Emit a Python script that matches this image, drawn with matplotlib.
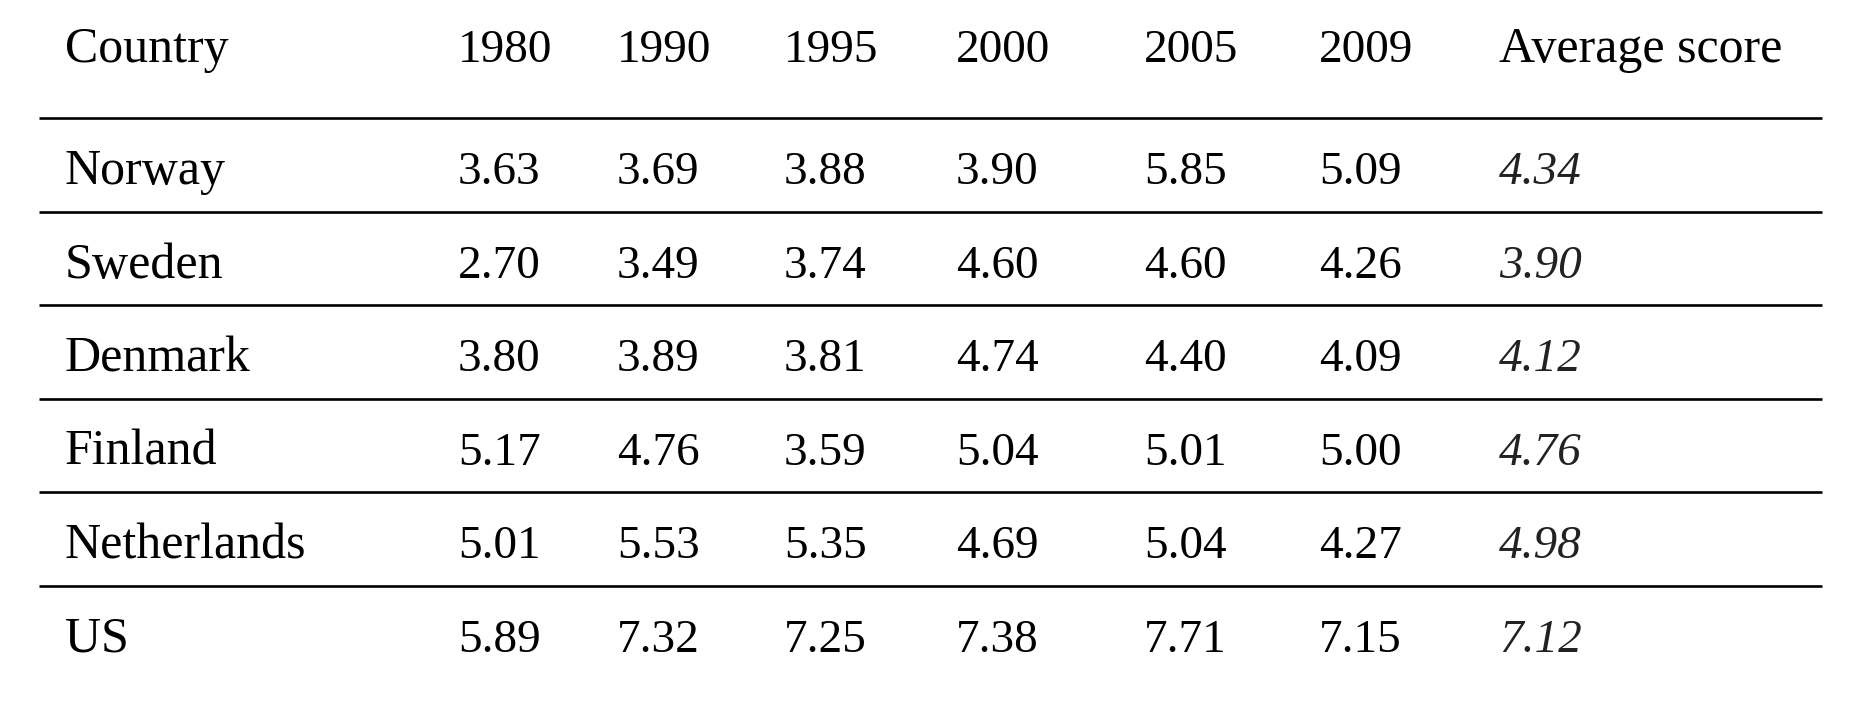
import matplotlib.pyplot as plt

countries = ["Norway", "Sweden", "Denmark", "Finland", "Netherlands", "US"]
years = ["1980", "1990", "1995", "2000", "2005", "2009"]
scores = [
    [3.63, 3.69, 3.88, 3.90, 5.85, 5.09],
    [2.70, 3.49, 3.74, 4.60, 4.60, 4.26],
    [3.80, 3.89, 3.81, 4.74, 4.40, 4.09],
    [5.17, 4.76, 3.59, 5.04, 5.01, 5.00],
    [5.01, 5.53, 5.35, 4.69, 5.04, 4.27],
    [5.89, 7.32, 7.25, 7.38, 7.71, 7.15],
]
averages = [4.34, 3.90, 4.12, 4.76, 4.98, 7.12]

W, H = 1858, 702
fig = plt.figure(figsize=(W / 100, H / 100), dpi=100)
ax = fig.add_axes([0, 0, 1, 1])
ax.set_xlim(0, W)
ax.set_ylim(H, 0)
ax.axis("off")

font = "Liberation Serif"
fs = 34      # numbers
fs_word = 36  # words are a bit wider in the original face

# column left edges (pixels)
x_country = 65
x_years = [458, 617, 784, 956, 1144, 1319]
x_avg = 1499

head_base = 62
line_y = [118 + i * 93.6 for i in range(len(countries))]

ax.text(x_country, head_base, "Country", fontsize=fs_word, family=font, va="baseline")
for x, yr in zip(x_years, years):
    ax.text(x, head_base, yr, fontsize=fs, family=font, va="baseline")
ax.text(x_avg, head_base, "Average score", fontsize=fs_word, family=font, va="baseline")

for i, c in enumerate(countries):
    ax.plot([39, 1822], [line_y[i], line_y[i]], color="black", lw=1.9,
            solid_capstyle="butt")
    base = line_y[i] + 66
    ax.text(x_country, base, c, fontsize=fs_word, family=font, va="baseline")
    for x, v in zip(x_years, scores[i]):
        ax.text(x, base, f"{v:.2f}", fontsize=fs, family=font, va="baseline")
    ax.text(x_avg, base, f"{averages[i]:.2f}", fontsize=fs, family=font,
            style="italic", va="baseline", color="#222222")

fig.savefig("out.png", dpi=100)
